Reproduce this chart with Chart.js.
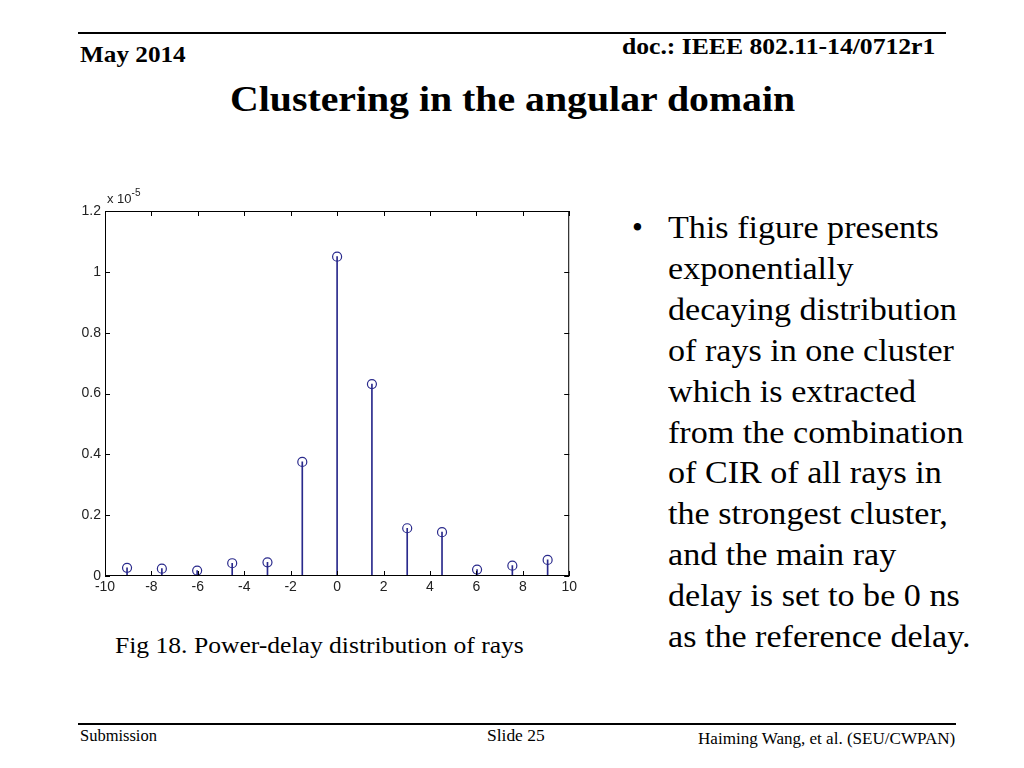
<!DOCTYPE html>
<html>
<head>
<meta charset="utf-8">
<script src="https://cdn.jsdelivr.net/npm/chart.js@4"></script>
<style>
  body { margin: 0; width: 1024px; height: 768px; background: #fff; position: relative; overflow: hidden; font-family: "Liberation Serif", "Times New Roman", serif; color: #000; }
  .abs { position: absolute; white-space: nowrap; transform-origin: left top; }
  .rule { position: absolute; height: 2px; background: #000; }
  #chartBox { position: absolute; left: 60px; top: 185px; width: 520px; height: 415px; }
  .bullet { position: absolute; left: 632px; top: 208px; font-size: 31px; line-height: 40.9px; }
  .bullet .dot { position: absolute; left: 0; top: 0; }
  .bullet .txt { position: absolute; left: 36px; top: 0; white-space: nowrap; transform: scaleX(1.1); transform-origin: left top; }
</style>
</head>
<body>
<div class="rule" style="left:78px; top:32px; width:868px;"></div>
<div class="abs" style="left:80px; top:41px; font-size:24px; font-weight:bold; transform:scaleX(1.05);">May 2014</div>
<div class="abs" style="left:622px; top:33px; font-size:24px; font-weight:bold; transform:scaleX(1.068);">doc.: IEEE 802.11-14/0712r1</div>
<div class="abs" style="left:230px; top:78px; font-size:36px; font-weight:bold; transform:scaleX(1.105);">Clustering in the angular domain</div>

<div id="chartBox"><canvas id="myChart"></canvas></div>
<div class="abs" style="left:107px; top:189px; font-family:'Liberation Sans', Arial, sans-serif; font-size:13px; color:#222;">x 10<sup style="font-size:10px; position:relative; top:-2px;">-5</sup></div>

<div class="abs" style="left:115px; top:632px; font-size:24px; transform:scaleX(1.066);">Fig 18. Power-delay distribution of rays</div>

<div class="bullet">
  <div class="dot">•</div>
  <div class="txt">This figure presents<br>exponentially<br>decaying distribution<br>of rays in one cluster<br>which is extracted<br>from the combination<br>of CIR of all rays in<br>the strongest cluster,<br>and the main ray<br>delay is set to be 0 ns<br>as the reference delay.</div>
</div>

<div class="rule" style="left:78px; top:723px; width:878px;"></div>
<div class="abs" style="left:80px; top:727px; font-size:16px; transform:scaleX(1.03);">Submission</div>
<div class="abs" style="left:487px; top:727px; font-size:16px; transform:scaleX(1.09);">Slide 25</div>
<div class="abs" style="left:698px; top:730px; font-size:16px; transform:scaleX(1.066);">Haiming Wang, et al. (SEU/CWPAN)</div>

<script>
const ctx = document.getElementById("myChart");

// ray delays (ns) and power (x 10^-5)
const delays = [-9.05, -7.55, -6.03, -4.52, -3.0, -1.5, 0, 1.5, 3.02, 4.52, 6.03, 7.55, 9.07];
const power = [0.027, 0.024, 0.018, 0.042, 0.045, 0.375, 1.05, 0.631, 0.157, 0.144, 0.021, 0.034, 0.053];
const xTicks = [-10, -8, -6, -4, -2, 0, 2, 4, 6, 8, 10];
const yTicks = [0, 0.2, 0.4, 0.6, 0.8, 1, 1.2];

const stemColor = "#2a2a8c";
const points = delays.map((d, i) => ({ x: d, y: power[i] }));

// matlab style box with inward ticks on all four sides
const boxPlugin = {
	id: "matlabBox",
	afterDraw(chart) {
		const c = chart.ctx;
		const a = chart.chartArea;
		const sx = chart.scales.x;
		const sy = chart.scales.y;
		c.save();
		c.strokeStyle = "#000";
		c.lineWidth = 1;
		c.strokeRect(a.left + 0.5, a.top + 0.5, a.right - a.left - 1, a.bottom - a.top - 1);
		c.beginPath();
		xTicks.forEach((t) => {
			const px = Math.round(sx.getPixelForValue(t)) + 0.5;
			c.moveTo(px, a.bottom);
			c.lineTo(px, a.bottom - 5);
			c.moveTo(px, a.top);
			c.lineTo(px, a.top + 5);
		});
		yTicks.forEach((t) => {
			const py = Math.round(sy.getPixelForValue(t)) + 0.5;
			c.moveTo(a.left, py);
			c.lineTo(a.left + 5, py);
			c.moveTo(a.right, py);
			c.lineTo(a.right - 5, py);
		});
		c.stroke();
		c.restore();
	},
};

const stemChart = new Chart(ctx, {
	type: "bar",
	data: {
		datasets: [
			{
				type: "scatter",
				label: "rays",
				data: points,
				pointStyle: "circle",
				pointRadius: 4.5,
				pointBorderWidth: 1.2,
				pointBorderColor: stemColor,
				pointBackgroundColor: "rgba(0,0,0,0)",
				order: 0,
			},
			{
				type: "bar",
				label: "stems",
				data: points,
				backgroundColor: stemColor,
				barThickness: 1,
				order: 1,
			},
		],
	},
	options: {
		responsive: true,
		maintainAspectRatio: false,
		animation: false,
		layout: { padding: { top: 26, right: 10, left: 0, bottom: 0 } },
		plugins: {
			legend: { display: false },
			tooltip: { enabled: false },
		},
		scales: {
			x: {
				type: "linear",
				min: -10,
				max: 10,
				offset: false,
				afterBuildTicks: (s) => { s.ticks = xTicks.map((v) => ({ value: v })); },
				afterFit: (s) => { s.height = 24; },
				grid: { display: false, drawTicks: false, offset: false },
				border: { display: false },
				ticks: {
					color: "#222",
					padding: 3,
					maxRotation: 0,
					font: { family: "'Liberation Sans', Arial, sans-serif", size: 14 },
				},
			},
			y: {
				min: 0,
				max: 1.2,
				afterBuildTicks: (s) => { s.ticks = yTicks.map((v) => ({ value: v })); },
				afterFit: (s) => { s.width = 45; },
				grid: { display: false, drawTicks: false },
				border: { display: false },
				ticks: {
					color: "#222",
					padding: 4,
					callback: (v) => String(+v.toFixed(1)),
					font: { family: "'Liberation Sans', Arial, sans-serif", size: 14 },
				},
			},
		},
	},
	plugins: [boxPlugin],
});
</script>
</body>
</html>
